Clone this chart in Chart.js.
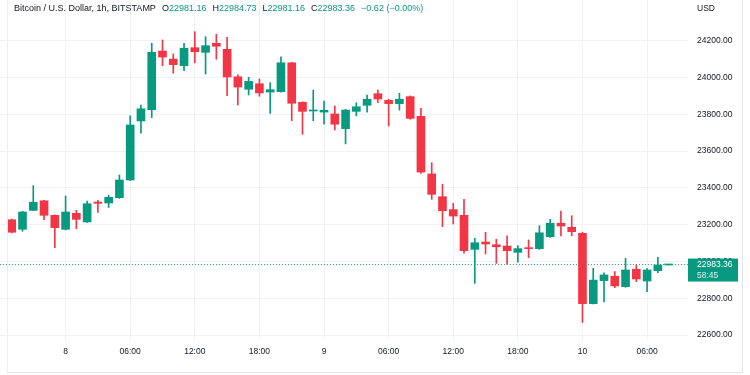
<!DOCTYPE html>
<html>
<head>
<meta charset="utf-8">
<script src="https://cdn.jsdelivr.net/npm/chart.js@4.4.0/dist/chart.umd.min.js"></script>
<style>
html,body{margin:0;padding:0;background:#fff}
#wrap{position:relative;width:750px;height:375px;overflow:hidden}
#head{position:absolute;left:14px;top:3px;font:9px "Liberation Sans",Arial,sans-serif;color:#131722;white-space:nowrap}
#head .v{color:#089981}
#head .k{margin-left:6px}
#usd{position:absolute;left:697px;top:3px;font:8.5px "Liberation Sans",Arial,sans-serif;color:#131722}
#frame{position:absolute;left:7px;top:0;width:734px;height:372px;border-left:1px solid #eceef3;border-right:1px solid #e3e6ec;border-bottom:1px solid #e3e6ec;pointer-events:none}
</style>
</head>
<body>
<div id="wrap">
<canvas id="chart" width="750" height="375"></canvas>
<div id="frame"></div>
<div id="head">Bitcoin / U.S. Dollar, 1h, BITSTAMP<span class="k">O</span><span class="v">22981.16</span><span class="k">H</span><span class="v">22984.73</span><span class="k">L</span><span class="v">22981.16</span><span class="k">C</span><span class="v">22983.36</span><span class="k v">−0.62 (−0.00%)</span></div>
<div id="usd">USD</div>
</div>
<script>
// hourly candles, first one is 7 Feb 19:00
let openVals = [23227,23175,23278,23330,23251,23175,23262,23215,23323,23318,23347,23443,23764,23825,24144,24100,24064,24162,24137,24186,24153,24004,23936,23966,23921,23923,24080,23865,23818,23812,23802,23722,23816,23849,23912,23876,23858,23896,23789,23476,23352,23282,23251,23066,23106,23091,23084,23050,23075,23070,23135,23208,23186,23153,22771,22896,22920,22863,22958,22894,22950,22981.16]
let highVals = [23231,23273,23412,23332,23253,23356,23278,23329,23333,23361,23470,23792,23850,24186,24204,24128,24186,24249,24222,24235,24218,24014,24001,23992,23972,24113,24082,23868,23932,23872,23845,23827,23863,23905,23932,23882,23914,23900,23833,23537,23420,23316,23338,23126,23159,23121,23139,23086,23117,23195,23229,23274,23249,23159,22963,22939,22945,23017,22981,22961,23023,22984.73]
let lowVals = [23155,23164,23276,23227,23075,23172,23178,23213,23267,23294,23343,23440,23697,23782,24064,24023,24037,24080,24019,24099,23901,23851,23905,23898,23805,23920,23765,23691,23765,23747,23715,23639,23791,23811,23863,23736,23823,23773,23479,23338,23189,23204,23045,22881,23041,22990,22986,22996,23021,23066,23131,23139,23140,22669,22769,22781,22858,22860,22890,22836,22939,22981.16]
let closeVals = [23159,23269,23322,23251,23184,23269,23229,23314,23316,23349,23443,23742,23830,24137,24111,24070,24159,24140,24173,24170,24003,23948,23979,23916,23934,24080,23860,23816,23823,23822,23746,23823,23841,23882,23883,23858,23882,23778,23486,23365,23276,23247,23059,23102,23095,23080,23059,23070,23070,23156,23208,23193,23162,22771,22899,22927,22867,22954,22905,22954,22981,22983.36]

let xTickIdx = [5,11,17,23,29,35,41,47,53,59]
let xTickLabels = ["8","06:00","12:00","18:00","9","06:00","12:00","18:00","10","06:00"]
let yTicks = [22600,22800,23000,23200,23400,23600,23800,24000,24200]

let lastPrice = 22983.36
let countdown = "58:45"

let green = "#089981"
let red = "#f23645"
let gridColor = "#f0f2f6"
let textColor = "#131722"

let bodies = []
let wicks = []
let colors = []
for(let i=0;i<openVals.length;i++){
bodies.push({x:i,y:[openVals[i],closeVals[i]]})
wicks.push({x:i,y:[lowVals[i],highVals[i]]})
colors.push(closeVals[i]>=openVals[i] ? green : red)
}

// price label on the right axis
const priceBox = {
id:"priceBox",
afterDraw(chart){
let ctx = chart.ctx
let area = chart.chartArea
let y = chart.scales.y.getPixelForValue(lastPrice)
ctx.save()
ctx.fillStyle = green
ctx.fillRect(area.right, y-6, 50, 23)
ctx.font = '8.5px "Liberation Sans", Arial, sans-serif'
ctx.textBaseline = "middle"
ctx.fillStyle = "#ffffff"
ctx.fillText(lastPrice.toFixed(2), area.right+9, y)
ctx.fillStyle = "rgba(255,255,255,0.85)"
ctx.fillText(countdown, area.right+9, y+11)
ctx.restore()
}
}

new Chart(document.getElementById("chart"),{
type:"bar",
data:{
datasets:[
{
type:"line",
data:[{x:-5,y:lastPrice},{x:70,y:lastPrice}],
borderColor:green,
borderWidth:1,
borderDash:[1,2],
pointRadius:0,
order:3
},
{
data:wicks,
backgroundColor:colors,
barThickness:1,
grouped:false,
order:2
},
{
data:bodies,
backgroundColor:colors,
barThickness:8,
minBarLength:1,
grouped:false,
order:1
}
]
},
options:{
responsive:false,
animation:false,
layout:{padding:0},
plugins:{legend:{display:false},tooltip:{enabled:false}},
scales:{
x:{
type:"linear",
offset:false,
min:-1.09,
max:62.8,
afterBuildTicks:s=>{ s.ticks = xTickIdx.map(v=>({value:v})) },
afterFit:s=>{ s.height = 35; s.paddingLeft = 0; s.paddingRight = 0 },
grid:{color:gridColor,drawTicks:false,offset:false},
border:{display:false},
ticks:{
autoSkip:false,
maxRotation:0,
padding:7,
color:textColor,
font:{family:"Liberation Sans",size:8.5},
callback:(v,i)=>xTickLabels[i]
}
},
y:{
position:"right",
min:22573.4,
max:24421.2,
afterBuildTicks:s=>{ s.ticks = yTicks.map(v=>({value:v})) },
afterFit:s=>{ s.width = 62; s.paddingTop = 0; s.paddingBottom = 0 },
grid:{color:gridColor,drawTicks:false},
border:{display:false},
ticks:{
padding:9,
color:textColor,
font:{family:"Liberation Sans",size:8.5},
callback:v=>v.toFixed(2)
}
}
}
},
plugins:[priceBox]
})
</script>
</body>
</html>
